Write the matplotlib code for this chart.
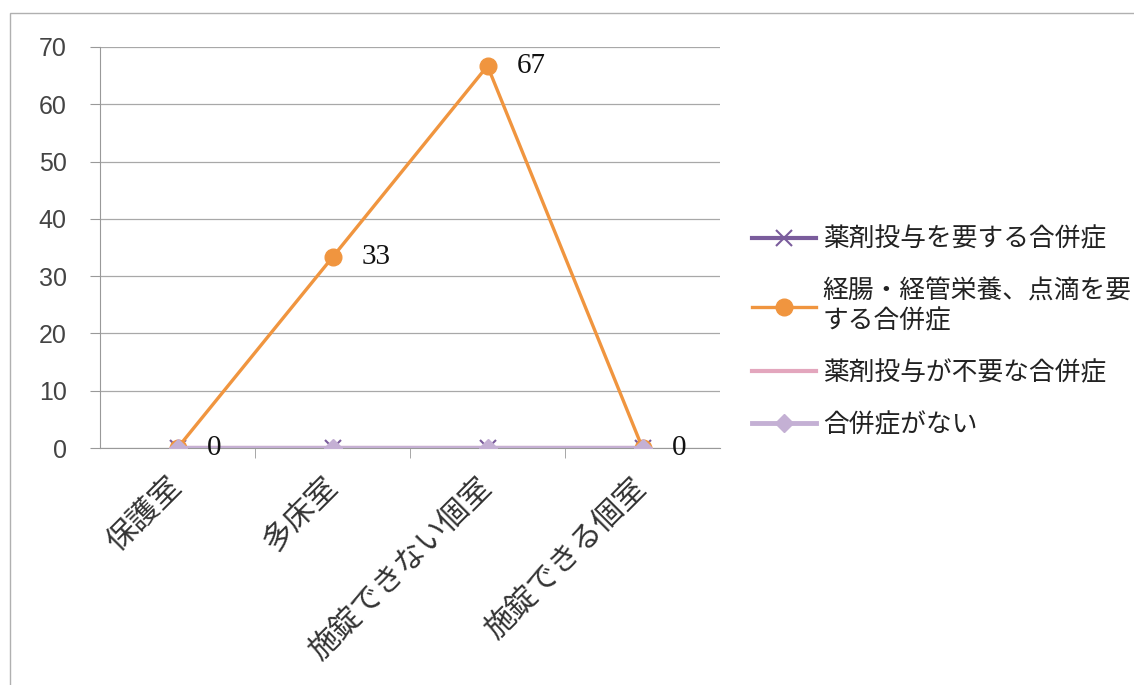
import matplotlib.pyplot as plt
from matplotlib.patches import Rectangle

# カテゴリと系列データ
categories = ["保護室", "多床室", "施錠できない個室", "施錠できる個室"]
series_names = ["薬剤投与を要する合併症", "経腸・経管栄養、点滴を要\nする合併症",
                "薬剤投与が不要な合併症", "合併症がない"]
drug_required = [0, 0, 0, 0]
tube_feeding = [0, 33.3, 66.7, 0]
drug_not_required = [0, 0, 0, 0]
no_complication = [0, 0, 0, 0]
y_ticks = [0, 10, 20, 30, 40, 50, 60, 70]

jp_font = ["Noto Sans CJK JP", "DejaVu Sans"]

fig = plt.figure(figsize=(11.34, 6.85), dpi=100)
ax = fig.add_axes([100 / 1134, 237 / 685, 620 / 1134, 401 / 685])

x = range(len(categories))

ax.plot(x, drug_required, color="#7a5c9c", linewidth=3, marker="x",
        markersize=11, markeredgewidth=1.5, label=series_names[0], zorder=3)
ax.plot(x, tube_feeding, color="#f0953f", linewidth=2.4, marker="o",
        markersize=12, label=series_names[1], zorder=4)
ax.plot(x, drug_not_required, color="#e3a6bd", linewidth=3, marker="",
        label=series_names[2], zorder=5)
ax.plot(x, no_complication, color="#c4b0d4", linewidth=3.5, marker="D",
        markersize=9, label=series_names[3], zorder=6)

# データラベル（オレンジ系列）
for i, v in enumerate(tube_feeding):
    ax.annotate(f"{v:.0f}", (i, v), xytext=(21, 0), textcoords="offset points",
                ha="left", va="center", fontsize=21, family="Liberation Serif",
                color="#111111", zorder=7)

# 軸
ax.set_xlim(-0.5, 3.5)
ax.set_ylim(0, 70)
ax.set_yticks(y_ticks)
ax.set_yticklabels([str(t) for t in y_ticks], family="Liberation Sans", fontsize=18,
                   color="#444444")
ax.tick_params(axis="y", length=7, direction="out", color="#999999", pad=17)

ax.set_xticks(list(x))
ax.set_xticklabels(categories, rotation=45, ha="right", va="center",
                   rotation_mode="anchor", family=jp_font, fontsize=22,
                   color="#333333")
ax.tick_params(axis="x", length=0, pad=25)
ax.set_xticks([0.5, 1.5, 2.5], minor=True)
ax.tick_params(axis="x", which="minor", length=7, direction="out", color="#999999")

ax.grid(axis="y", color="#a8a8a8", linewidth=0.9)
ax.set_axisbelow(True)
for side in ["top", "right"]:
    ax.spines[side].set_visible(False)
ax.spines["left"].set_color("#999999")
ax.spines["bottom"].set_color("#999999")

# 凡例
leg = fig.legend(loc="center left", bbox_to_anchor=(752 / 1134, 0.515),
                 frameon=False, borderpad=0, borderaxespad=0,
                 handlelength=2.5, handletextpad=0.25, labelspacing=1.0,
                 prop={"family": jp_font, "size": 18.5})
for t in leg.get_texts():
    t.set_color("#222222")

# 外枠
fig.patches.append(Rectangle((10 / 1134, -0.1), 1.5, 0.1 + 672 / 685,
                             transform=fig.transFigure, fill=False,
                             edgecolor="#b0b0b0", linewidth=1))

plt.savefig("out.png")
